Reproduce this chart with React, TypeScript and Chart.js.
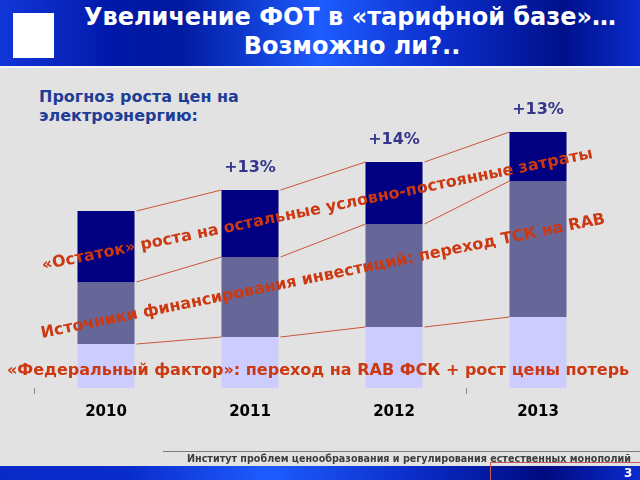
import React, { useEffect, useRef } from "react";
import { Chart, registerables } from "chart.js";

Chart.register(...registerables);

const years = ["2010", "2011", "2012", "2013"];
const federalFactor = [44, 51, 61, 71];
const investmentSources = [62, 80, 103, 136];
const remainder = [71, 67, 62, 49];
const growthLabels = ["", "+13%", "+14%", "+13%"];

const titleLine1 = "Увеличение ФОТ в «тарифной базе»…";
const titleLine2 = "Возможно ли?..";
const subtitleLine1 = "Прогноз роста цен на";
const subtitleLine2 = "электроэнергию:";
const noteRemainder = "«Остаток» роста на остальные условно-постоянные затраты";
const noteInvest = "Источники финансирования инвестиций: переход ТСК на RAB";
const noteFederal = "«Федеральный фактор»: переход на RAB ФСК + рост цены потерь";
const footerText = "Институт проблем ценообразования и регулирования естественных монополий";
const pageNumber = "3";

const RED = "#cc3810";
const FONT = "'DejaVu Sans', Verdana, sans-serif";

const seriesLinesPlugin = {
  id: "seriesLines",
  afterDatasetsDraw(chart: any) {
    const ctx = chart.ctx;
    ctx.save();
    ctx.strokeStyle = "#c8553a";
    ctx.lineWidth = 1;
    chart.data.datasets.forEach((_: any, d: number) => {
      const meta = chart.getDatasetMeta(d);
      for (let i = 0; i < meta.data.length - 1; i++) {
        const a = meta.data[i].getProps(["x", "y", "width"], true);
        const b = meta.data[i + 1].getProps(["x", "y", "width"], true);
        ctx.beginPath();
        ctx.moveTo(a.x + a.width / 2 + 2, a.y);
        ctx.lineTo(b.x - b.width / 2, b.y);
        ctx.stroke();
      }
    });
    // growth labels above stacks
    const top = chart.getDatasetMeta(chart.data.datasets.length - 1);
    ctx.fillStyle = "#35358c";
    ctx.font = `bold 16px ${FONT}`;
    ctx.textAlign = "center";
    ctx.textBaseline = "middle";
    top.data.forEach((el: any, i: number) => {
      const p = el.getProps(["x", "y"], true);
      if (growthLabels[i]) ctx.fillText(growthLabels[i], p.x, p.y - 22);
    });
    ctx.restore();
  },
};

export default function App() {
  const ref = useRef<HTMLCanvasElement | null>(null);
  useEffect(() => {
    if (!ref.current) return;
    const chart = new Chart(ref.current, {
      type: "bar",
      data: {
        labels: years,
        datasets: [
          { label: "Федеральный фактор", data: federalFactor, backgroundColor: "#ccccfe" },
          { label: "Источники финансирования инвестиций", data: investmentSources, backgroundColor: "#666699" },
          { label: "Остаток", data: remainder, backgroundColor: "#000080" },
        ],
      },
      options: {
        responsive: false,
        animation: false,
        layout: { padding: { left: 34, right: 30, top: 88, bottom: 0 } },
        plugins: { legend: { display: false }, tooltip: { enabled: false } },
        datasets: { bar: { categoryPercentage: 1, barPercentage: 0.396 } },
        scales: {
          x: {
            stacked: true,
            border: { display: false },
            grid: {
              drawOnChartArea: false,
              drawTicks: true,
              tickLength: 6,
              color: (c: any) => (c.index === 0 || c.index === 3 ? "#8a8a8a" : "rgba(0,0,0,0)"),
            },
            ticks: { color: "#000", font: { family: FONT, size: 15, weight: "bold" }, padding: 9 },
            afterFit: (s: any) => {
              s.height = 92;
            },
          },
          y: { stacked: true, display: false, min: 0, max: 300 },
        },
      },
      plugins: [seriesLinesPlugin],
    } as any);
    return () => chart.destroy();
  }, []);

  const abs = (s: React.CSSProperties): React.CSSProperties => ({ position: "absolute", whiteSpace: "nowrap", ...s });

  return (
    <div style={{ position: "fixed", left: 0, top: 0, width: 640, height: 480, overflow: "hidden", background: "#e2e2e2", fontFamily: FONT }}>
      <div
        style={abs({
          left: 0, top: 0, width: 640, height: 66,
          background: "linear-gradient(90deg, #1236d8 0%, #0018a8 18%, #001aa0 28%, #1e5cff 50%, #0a2cc8 70%, #00108a 88%, #0a2ccc 100%)",
        })}
      />
      <div style={abs({ left: 0, top: 66, width: 640, height: 2, background: "#f4f4f4" })} />
      <div style={abs({ left: 13, top: 13, width: 41, height: 45, background: "#ffffff" })} />
      <div style={abs({ left: 0, top: 3, width: 700, textAlign: "center", color: "#fff", fontWeight: "bold", fontSize: 24, lineHeight: "29px" })}>
        {titleLine1}
      </div>
      <div style={abs({ left: 0, top: 32, width: 704, textAlign: "center", color: "#fff", fontWeight: "bold", fontSize: 24, lineHeight: "29px" })}>
        {titleLine2}
      </div>
      <div style={abs({ left: 39, top: 87, color: "#1f3d96", fontWeight: "bold", fontSize: 16, lineHeight: "19px" })}>
        {subtitleLine1}
        <br />
        {subtitleLine2}
      </div>
      <canvas ref={ref} width={640} height={480} style={{ position: "absolute", left: 0, top: 0, width: 640, height: 480 }} />
      <div style={abs({ left: 42, top: 255, color: RED, fontWeight: "bold", fontSize: 16, lineHeight: "20px", transform: "rotate(-11.5deg)", transformOrigin: "left center" })}>
        {noteRemainder}
      </div>
      <div style={abs({ left: 41, top: 323, color: RED, fontWeight: "bold", fontSize: 16, lineHeight: "20px", transform: "rotate(-11.5deg)", transformOrigin: "left center" })}>
        {noteInvest}
      </div>
      <div style={abs({ left: 7, top: 360, color: RED, fontWeight: "bold", fontSize: 16, lineHeight: "20px" })}>
        {noteFederal}
      </div>
      <div style={abs({ left: 163, top: 451, width: 477, height: 1, background: "#7a7a7a" })} />
      <div style={abs({ left: 187, top: 453, color: "#3c3c3c", fontWeight: "bold", fontSize: 9.6, lineHeight: "12px" })}>
        {footerText}
      </div>
      <div
        style={abs({
          left: 0, top: 466, width: 640, height: 14,
          background: "linear-gradient(90deg, #0a2ac8 0%, #0a2ccc 20%, #1e5cff 42%, #0a2cc8 65%, #000a80 85%, #0a2ccc 100%)",
        })}
      />
      <div style={abs({ left: 490, top: 462, width: 160, height: 30, border: "1px solid #c85a5a", boxSizing: "border-box" })} />
      <div style={abs({ left: 624, top: 466, color: "#fff", fontWeight: "bold", fontSize: 12, lineHeight: "15px" })}>{pageNumber}</div>
    </div>
  );
}
